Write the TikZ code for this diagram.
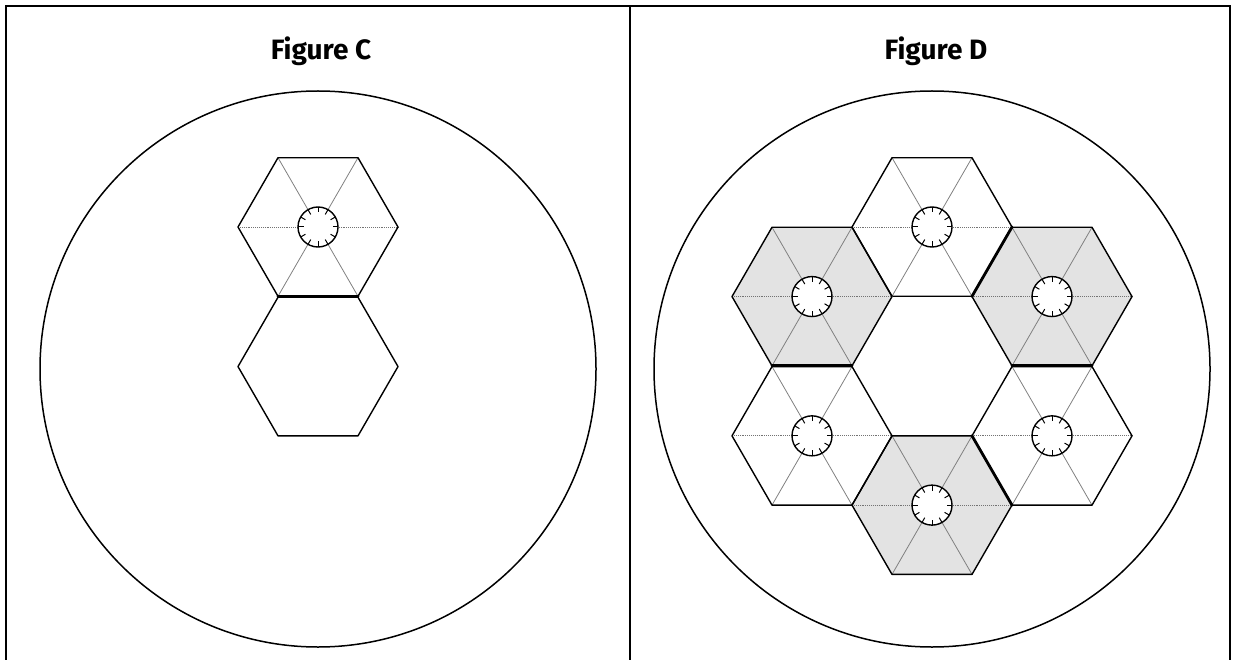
\documentclass[tikz,border=0pt]{standalone}
\usepackage{fontspec}
\setmainfont{Fira Sans}
\tikzset{
  frameline/.style={line width=2.6pt, black},
  bigcircle/.style={line width=1.5pt, black},
  hexedge/.style={line width=1.4pt, black, line join=round},
  thickedge/.style={line width=2.8pt, black, line cap=round},
  spokediag/.style={line width=0.8pt, black!50},
  spokehor/.style={line width=0.9pt, black!55, densely dotted},
  ringline/.style={line width=1.4pt, black},
  tickline/.style={line width=1pt, black},
  shadefill/.style={fill=black!11},
  title/.style={font=\fontsize{28}{32}\selectfont\bfseries}
}
\newcommand\HexShade[2]{%
  \fill[shadefill] (#1+80,#2) -- (#1+40,#2+69.28) -- (#1-40,#2+69.28) -- (#1-80,#2) -- (#1-40,#2-69.28) -- (#1+40,#2-69.28) -- cycle;}
\newcommand\HexOutline[2]{%
  \draw[hexedge] (#1+80,#2) -- (#1+40,#2+69.28) -- (#1-40,#2+69.28) -- (#1-80,#2) -- (#1-40,#2-69.28) -- (#1+40,#2-69.28) -- cycle;}
\newcommand\HexCell[2]{%
  \begin{scope}[shift={(#1,#2)}]
    \draw[spokehor] (-80,0) -- (80,0);
    \draw[spokediag] (-40,-69.28) -- (40,69.28);
    \draw[spokediag] (40,-69.28) -- (-40,69.28);
    \draw[hexedge] (80,0) -- (40,69.28) -- (-40,69.28) -- (-80,0) -- (-40,-69.28) -- (40,-69.28) -- cycle;
    \fill[white] (0,0) circle (20pt);
    \draw[ringline] (0,0) circle (20pt);
    \foreach \a in {0,30,...,330} \draw[tickline] (\a:20) -- (\a:14.5);
  \end{scope}}
\begin{document}
\begin{tikzpicture}[x=1pt,y=-1pt]
\useasboundingbox (0,0) rectangle (1236,660);
% frame
\draw[frameline] (6,662) -- (6,6) -- (1230,6) -- (1230,662);
\draw[frameline] (630,6) -- (630,662);
% titles
\node[title] (tc) at (321,51) {Figure C};
\node[title] (td) at (936,51) {Figure D};
% big circles
\draw[bigcircle] (318,369) circle (278pt);
\draw[bigcircle] (932,369) circle (278pt);
% ---- Figure C
\HexCell{318}{227}
\HexOutline{318}{366.56}
\draw[thickedge] (278,296.56) -- (358,296.56);
% ---- Figure D
\HexShade{812}{296.56}
\HexShade{1052}{296.56}
\HexShade{932}{505.12}
\HexCell{932}{227}
\HexCell{812}{296.56}
\HexCell{1052}{296.56}
\HexCell{812}{435.84}
\HexCell{1052}{435.84}
\HexCell{932}{505.12}
% thick (joined) edges
\draw[thickedge] (772,365.84) -- (852,365.84);
\draw[thickedge] (1012,365.84) -- (1092,365.84);
\draw[thickedge] (1012,227) -- (972,296.28);
\draw[thickedge] (972,435.84) -- (1012,505.12);
\end{tikzpicture}
\end{document}
